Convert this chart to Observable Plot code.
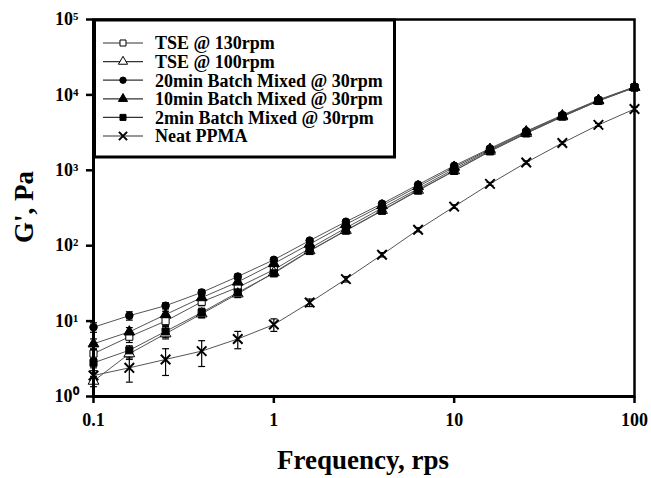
<!DOCTYPE html>
<html><head><meta charset="utf-8">
<script src="https://cdn.jsdelivr.net/npm/d3@7"></script>
<script src="https://cdn.jsdelivr.net/npm/@observablehq/plot@0.6"></script>
<style>
body{margin:0;background:#fff}
#chart{width:651px;height:478px}
</style>
</head><body><div id="chart"></div>
<script>
// ---- data ----
const freq = [0.1, 0.158, 0.251, 0.398, 0.631, 1, 1.58, 2.51, 3.98, 6.31, 10, 15.8, 25.1, 39.8, 63.1, 100];
const seriesNames = ["TSE @ 130rpm", "TSE @ 100rpm", "20min Batch Mixed @ 30rpm", "10min Batch Mixed @ 30rpm", "2min Batch Mixed @ 30rpm", "Neat PPMA"];
const tse130 = [3.7, 6.2, 10, 18, 28, 48, 92, 172, 315, 570, 1040, 1850, 3150, 5250, 8400, 12600];
const tse100 = [1.6, 3.7, 6.8, 12.5, 23, 44, 86, 160, 295, 545, 990, 1800, 3100, 5150, 8350, 12600];
const min20  = [8.3, 11.8, 16, 24, 39, 65, 117, 208, 360, 645, 1150, 1950, 3300, 5400, 8600, 12800];
const min10  = [5.0, 7.2, 12.2, 20.5, 33, 58, 105, 192, 340, 610, 1100, 1900, 3250, 5300, 8500, 12700];
const min2   = [2.8, 4.1, 7.3, 13, 24, 43, 85, 158, 290, 537, 980, 1780, 3080, 5150, 8300, 12500];
const neat   = [1.9, 2.4, 3.1, 4.0, 5.8, 9.0, 17.6, 36, 76, 163, 330, 660, 1270, 2300, 4000, 6500];
// ± error (Pa)
const errTse130 = [0.6, 1.0, 1.2, 2, 3, 4, 6, 10, 15, 25, 40, 60, 100, 150, 250, 350];
const errTse100 = [0.25, 0.6, 1.0, 1.5, 2.5, 4, 6, 10, 15, 25, 40, 60, 100, 150, 250, 350];
const errMin20  = [1.2, 1.5, 1.5, 2, 3, 4, 6, 10, 15, 25, 40, 60, 100, 150, 250, 350];
const errMin10  = [0.8, 1.0, 1.3, 2, 3, 4, 6, 10, 15, 25, 40, 60, 100, 150, 250, 350];
const errMin2   = [0.4, 0.6, 1.2, 1.8, 2.5, 4, 6, 10, 15, 25, 40, 60, 100, 150, 250, 350];
const errNeat   = [0.3, 0.85, 1.2, 1.5, 1.5, 1.7, 2, 3, 5, 10, 18, 30, 60, 100, 180, 400];
const xTicks = [0.1, 1, 10, 100];
const yTicks = [1, 10, 100, 1000, 10000, 100000];

const symbols = ["square", "triangle", "circle", "triangle", "square", "times"];
const fills   = ["white", "white", "black", "black", "black", "none"];
const values  = [tse130, tse100, min20, min10, min2, neat];
const errs    = [errTse130, errTse100, errMin20, errMin10, errMin2, errNeat];

const data = [];
seriesNames.forEach((s, i) => freq.forEach((f, j) => data.push({
  series: s, idx: i, f, g: values[i][j], lo: values[i][j] - errs[i][j], hi: values[i][j] + errs[i][j]
})));

const sup = {"0":"\u2070","1":"\u00B9","2":"\u00B2","3":"\u00B3","4":"\u2074","5":"\u2075"};
const font = "Liberation Serif, Times New Roman, serif";

const marks = [
  Plot.line(data, {x: "f", y: "g", z: "series", stroke: "#555", strokeWidth: 1}),
  Plot.ruleX(data, {x: "f", y1: "lo", y2: "hi", stroke: "black", strokeWidth: 1.2}),
  Plot.link(data, {x1: d => d.f / 1.045, x2: d => d.f * 1.045, y1: "lo", y2: "lo", stroke: "black", strokeWidth: 1.2}),
  Plot.link(data, {x1: d => d.f / 1.045, x2: d => d.f * 1.045, y1: "hi", y2: "hi", stroke: "black", strokeWidth: 1.2})
];
seriesNames.forEach((s, i) => {
  marks.push(Plot.dot(data.filter(d => d.idx === i), {
    x: "f", y: "g", symbol: () => symbols[i],
    fill: fills[i], stroke: "black", strokeWidth: i === 5 ? 2 : 1,
    r: symbols[i] === "circle" ? 3.8 : (symbols[i] === "times" ? 4.4 : 4)
  }));
});
marks.push(
  Plot.frame({stroke: "black", strokeWidth: 2.5}),
  Plot.ruleX([0.1], {stroke: "black", strokeWidth: 3}),
  Plot.ruleY([1], {stroke: "black", strokeWidth: 3}),
  Plot.axisX({ticks: xTicks, tickFormat: d => String(d), tickSize: 7, tickPadding: 10, strokeWidth: 2.5,
    label: null, fontSize: 18, fontWeight: "bold", fontFamily: font}),
  Plot.axisY({ticks: yTicks, tickFormat: d => "10" + sup[String(Math.round(Math.log10(d)))], tickSize: 7, tickPadding: 8, strokeWidth: 2.5,
    label: null, fontSize: 18, fontWeight: "bold", fontFamily: font})
);

const plot = Plot.plot({
  width: 651, height: 478,
  marginLeft: 93, marginRight: 17, marginTop: 19, marginBottom: 82,
  x: {type: "log", domain: [0.1, 100]},
  y: {type: "log", domain: [1, 100000]},
  symbol: {type: "identity"},
  style: {fontFamily: font, fontWeight: "bold", color: "black", background: "white"},
  marks
});
document.getElementById("chart").appendChild(plot);

// axis titles and legend
const svg = d3.select(plot);
svg.append("text").attr("x", 363).attr("y", 469)
  .attr("text-anchor", "middle").attr("font-family", font).attr("font-weight", "bold")
  .attr("font-size", 27).attr("fill", "black").text("Frequency, rps");
svg.append("text").attr("transform", "translate(33,207) rotate(-90)")
  .attr("text-anchor", "middle").attr("font-family", font).attr("font-weight", "bold")
  .attr("font-size", 27).attr("fill", "black").text("G', Pa");

const lg = svg.append("g");
lg.append("rect").attr("x", 94.5).attr("y", 20).attr("width", 300).attr("height", 137)
  .attr("fill", "white").attr("stroke", "black").attr("stroke-width", 3);
const d3sym = {square: d3.symbolSquare, triangle: d3.symbolTriangle, circle: d3.symbolCircle, times: d3.symbolTimes};
seriesNames.forEach((s, i) => {
  const y = 43 + i * 18.6;
  lg.append("line").attr("x1", 103).attr("x2", 143).attr("y1", y).attr("y2", y)
    .attr("stroke", "#333").attr("stroke-width", 1.2);
  const r = symbols[i] === "circle" ? 3.2 : (symbols[i] === "times" ? 3.8 : 3.4);
  lg.append("path").attr("transform", `translate(123,${y})`)
    .attr("d", d3.symbol(d3sym[symbols[i]], Math.PI * r * r)())
    .attr("fill", fills[i]).attr("stroke", "black").attr("stroke-width", i === 5 ? 2 : 1);
  lg.append("text").attr("x", 155).attr("y", y).attr("dy", "0.35em").attr("text-anchor", "start")
    .attr("font-family", font).attr("font-weight", "bold").attr("font-size", 18)
    .attr("fill", "black").text(s);
});
</script>
</body></html>
